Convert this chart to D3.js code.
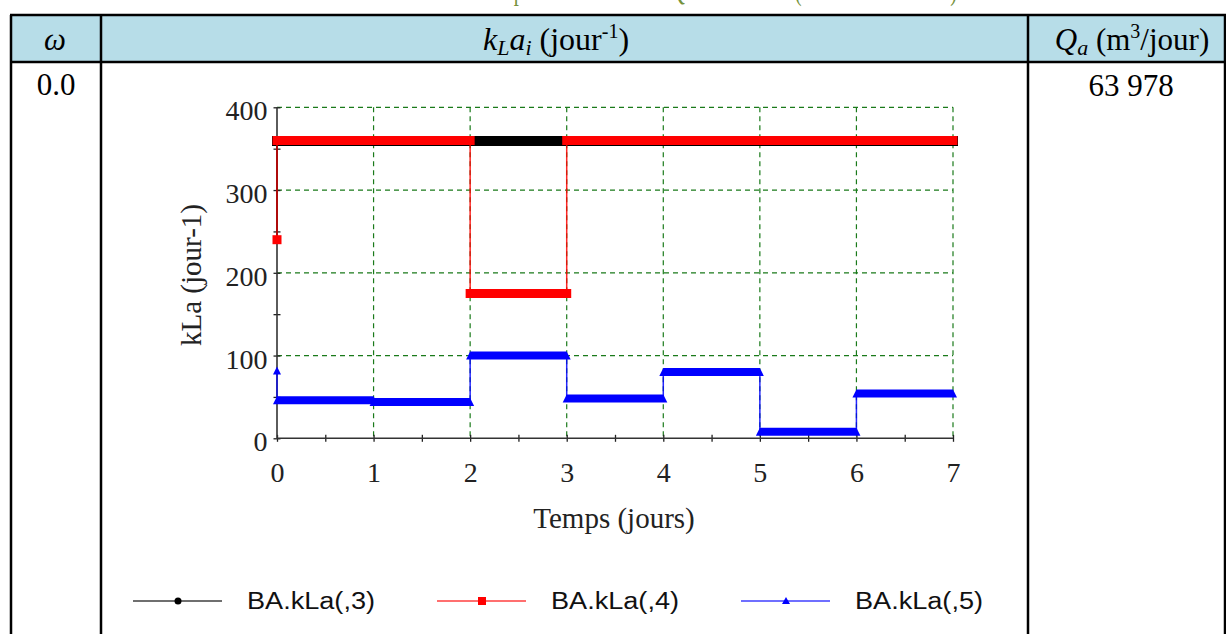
<!DOCTYPE html>
<html><head><meta charset="utf-8">
<script src="https://cdn.jsdelivr.net/npm/d3@7"></script>
<style>body{margin:0;background:#fff}svg{display:block}</style>
</head><body>
<svg id="c" width="1226" height="634"></svg>
<script>
// ---------- data ----------
const days = [0, 1, 2, 3, 4, 5, 6, 7];
const xTicks = [0, 1, 2, 3, 4, 5, 6, 7];
const xMinorTicks = [0.5, 1.5, 2.5, 3.5, 4.5, 5.5, 6.5];
const yTicks = [0, 100, 200, 300, 400];
const yMinorTicks = [50, 150, 250, 350];
const seriesNames = ["BA.kLa(,3)", "BA.kLa(,4)", "BA.kLa(,5)"];
const kLa3Start = 240;
const kLa3 = [360, 360, 360, 360, 360, 360, 360];
const kLa4Start = 240;
const kLa4 = [360, 360, 175, 360, 360, 360, 360];
const kLa5Start = 82;
const kLa5 = [46, 44, 100, 48, 80, 8, 54];
const omegaValue = "0.0";
const qaValue = "63 978";
const titleText = "Tableau IV.4 : Valeurs optimales de kLa et Qa de aération (cas de ω variables)";

// ---------- drawing ----------
const svg = d3.select("#c");
const serif = "'Liberation Serif','Times New Roman',serif";
const sans = "'Liberation Sans',Arial,sans-serif";

// caption at the very top, cut off by the page edge as in the source
svg.append("text").attr("x", 637).attr("y", 0.3).attr("text-anchor", "middle")
  .attr("font-family", serif).attr("font-size", 30).attr("fill", "#76923c")
  .attr("textLength", 640).attr("lengthAdjust", "spacingAndGlyphs")
  .text(titleText);

// table
const T = {l: 11, r: 1225, top: 15, hb: 62, c1: 101, c2: 1028, b: 640};
svg.append("rect").attr("x", T.l).attr("y", T.top).attr("width", T.r - T.l).attr("height", T.hb - T.top)
  .attr("fill", "#b7dde8");
const tl = svg.append("g").attr("stroke", "#000").attr("stroke-width", 2.5);
tl.append("line").attr("x1", T.l - 1).attr("x2", T.r + 2).attr("y1", T.top).attr("y2", T.top);
tl.append("line").attr("x1", T.l - 1).attr("x2", T.r + 2).attr("y1", T.hb).attr("y2", T.hb);
[T.l, T.c1, T.c2, T.r].forEach(x => tl.append("line").attr("x1", x).attr("x2", x).attr("y1", T.top).attr("y2", T.b));

// header texts
svg.append("text").attr("x", 55).attr("y", 50).attr("text-anchor", "middle")
  .attr("font-family", serif).attr("font-style", "italic").attr("font-size", 31).text("ω");
const h2 = svg.append("text").attr("x", 556).attr("y", 50).attr("text-anchor", "middle")
  .attr("font-family", serif).attr("font-size", 32);
h2.append("tspan").attr("font-style", "italic").text("k");
h2.append("tspan").attr("font-style", "italic").attr("font-size", 22).attr("dy", 5).text("L");
h2.append("tspan").attr("font-style", "italic").attr("dy", -5).text("a");
h2.append("tspan").attr("font-style", "italic").attr("font-size", 22).attr("dy", 5).text("i");
h2.append("tspan").attr("dy", -5).text(" (jour");
h2.append("tspan").attr("font-size", 20).attr("dy", -12).text("-1");
h2.append("tspan").attr("dy", 12).text(")");
const h3 = svg.append("text").attr("x", 1132).attr("y", 50).attr("text-anchor", "middle")
  .attr("font-family", serif).attr("font-size", 31);
h3.append("tspan").attr("font-style", "italic").text("Q");
h3.append("tspan").attr("font-style", "italic").attr("font-size", 22).attr("dy", 5).text("a");
h3.append("tspan").attr("dy", -5).text(" (m");
h3.append("tspan").attr("font-size", 20).attr("dy", -12).text("3");
h3.append("tspan").attr("dy", 12).text("/jour)");

svg.append("text").attr("x", 56).attr("y", 95).attr("text-anchor", "middle")
  .attr("font-family", serif).attr("font-size", 31).text(omegaValue);
svg.append("text").attr("x", 1131).attr("y", 96).attr("text-anchor", "middle")
  .attr("font-family", serif).attr("font-size", 31).text(qaValue);

// chart
const x = d3.scaleLinear().domain([0, 7]).range([277, 953]);
const y = d3.scaleLinear().domain([0, 400]).range([438.3, 107.3]);
const grid = svg.append("g").attr("stroke", "#1a7a1a").attr("stroke-width", 1.2)
  .attr("stroke-dasharray", "5,4").attr("fill", "none");
xTicks.filter(d => d > 0).forEach(d => grid.append("line")
  .attr("x1", x(d)).attr("x2", x(d)).attr("y1", y(400)).attr("y2", y(0)));
yTicks.filter(d => d > 0).forEach(d => grid.append("line")
  .attr("x1", x(0)).attr("x2", x(7)).attr("y1", y(d)).attr("y2", y(d)));

// axes
const xAxis = svg.append("g").attr("transform", `translate(0,${y(0)})`)
  .call(d3.axisBottom(x).tickValues(xTicks).tickSize(3.5).tickPadding(20).tickFormat(d3.format("d")));
const xAxisMinor = svg.append("g").attr("transform", `translate(0,${y(0)})`)
  .call(d3.axisBottom(x).tickValues(xMinorTicks).tickSize(3.5).tickFormat(""));
const yAxis = svg.append("g").attr("transform", `translate(${x(0)},0)`)
  .call(d3.axisLeft(y).tickValues(yTicks).tickSize(3.5).tickPadding(6).tickFormat(d3.format("d")));
const yAxisMinor = svg.append("g").attr("transform", `translate(${x(0)},0)`)
  .call(d3.axisLeft(y).tickValues(yMinorTicks).tickSize(3.5).tickFormat(""));
[xAxis, xAxisMinor, yAxis, yAxisMinor].forEach(g => {
  g.select(".domain").remove();
  g.selectAll(".tick line").attr("stroke", "#222").attr("stroke-width", 1.3);
});
[xAxis, xAxisMinor].forEach(g => g.selectAll(".tick line").attr("y1", -3.5).attr("y2", 3.5));
[yAxis, yAxisMinor].forEach(g => g.selectAll(".tick line").attr("x1", -3.5).attr("x2", 3.5));
xAxis.selectAll(".tick text").attr("font-family", serif).attr("font-size", 28).attr("fill", "#222").attr("dy", "0.71em");
yAxis.selectAll(".tick text").attr("font-family", serif).attr("font-size", 28).attr("fill", "#222").attr("dy", "0.45em");
svg.append("line").attr("x1", x(0)).attr("x2", x(0)).attr("y1", y(400)).attr("y2", y(0))
  .attr("stroke", "#333").attr("stroke-width", 1.6);
svg.append("line").attr("x1", x(0)).attr("x2", x(7)).attr("y1", y(0)).attr("y2", y(0))
  .attr("stroke", "#333").attr("stroke-width", 1.6);

svg.append("text").attr("x", 614).attr("y", 528).attr("text-anchor", "middle")
  .attr("font-family", serif).attr("font-size", 29).attr("fill", "#222").text("Temps (jours)");
svg.append("text").attr("transform", "translate(201,275) rotate(-90)").attr("text-anchor", "middle")
  .attr("font-family", serif).attr("font-size", 29).attr("fill", "#222").text("kLa (jour-1)");

// series
function stepPoints(start, vals) {
  const pts = [[days[0], start]];
  vals.forEach((v, i) => { pts.push([days[i], v]); pts.push([days[i + 1], v]); });
  return pts;
}
const line = d3.line().x(d => x(d[0])).y(d => y(d[1]));
const series = [
  {start: kLa3Start, vals: kLa3, color: "#000", kind: "circle", hw: 5, up: 4.5, dn: 5.5},
  {start: kLa4Start, vals: kLa4, color: "#ff0000", kind: "square", hw: 4.5, up: 4.5, dn: 4.5},
  {start: kLa5Start, vals: kLa5, color: "#0000ff", kind: "triangle", hw: 4, up: 4, dn: 4}
];
series.forEach(s => {
  const g = svg.append("g");
  g.append("path").attr("d", line(stepPoints(s.start, s.vals))).attr("fill", "none")
    .attr("stroke", s.color).attr("stroke-width", 1.5).attr("opacity", 0.85);
  s.vals.forEach((v, i) => {
    const x0 = x(days[i]), x1 = x(days[i + 1]), yy = y(v);
    let p;
    if (s.kind === "triangle") {
      p = `M${x0 - s.hw},${yy + s.dn}L${x0},${yy - s.up}L${x1},${yy - s.up}L${x1 + s.hw},${yy + s.dn}Z`;
    } else {
      p = `M${x0 - s.hw},${yy + s.dn}L${x0 - s.hw},${yy - s.up}L${x1 + s.hw},${yy - s.up}L${x1 + s.hw},${yy + s.dn}Z`;
    }
    g.append("path").attr("d", p).attr("fill", s.color);
  });
  // initial marker
  const sx = x(days[0]), sy = y(s.start);
  if (s.kind === "triangle") {
    g.append("path").attr("d", `M${sx - 4},${sy + 4}L${sx},${sy - 4}L${sx + 4},${sy + 4}Z`).attr("fill", s.color);
  } else if (s.kind === "square") {
    g.append("rect").attr("x", sx - 4.5).attr("y", sy - 4.5).attr("width", 9).attr("height", 9).attr("fill", s.color);
  }
});

// legend
const legendX = [133, 437, 741];
const legendY = 601;
series.forEach((s, i) => {
  const g = svg.append("g");
  g.append("line").attr("x1", legendX[i]).attr("x2", legendX[i] + 89).attr("y1", legendY).attr("y2", legendY)
    .attr("stroke", s.color).attr("stroke-width", 1.6).attr("opacity", 0.75);
  const mx = legendX[i] + 45;
  if (s.kind === "circle") g.append("circle").attr("cx", mx).attr("cy", legendY).attr("r", 3.5).attr("fill", s.color);
  else if (s.kind === "square") g.append("rect").attr("x", mx - 4).attr("y", legendY - 4).attr("width", 8).attr("height", 8).attr("fill", s.color);
  else g.append("path").attr("d", `M${mx - 4},${legendY + 3}L${mx},${legendY - 4}L${mx + 4},${legendY + 3}Z`).attr("fill", s.color);
  g.append("text").attr("x", legendX[i] + 114).attr("y", legendY + 8)
    .attr("font-family", sans).attr("font-size", 23).attr("fill", "#111")
    .attr("textLength", 128).attr("lengthAdjust", "spacingAndGlyphs").text(seriesNames[i]);
});
</script>
</body></html>
